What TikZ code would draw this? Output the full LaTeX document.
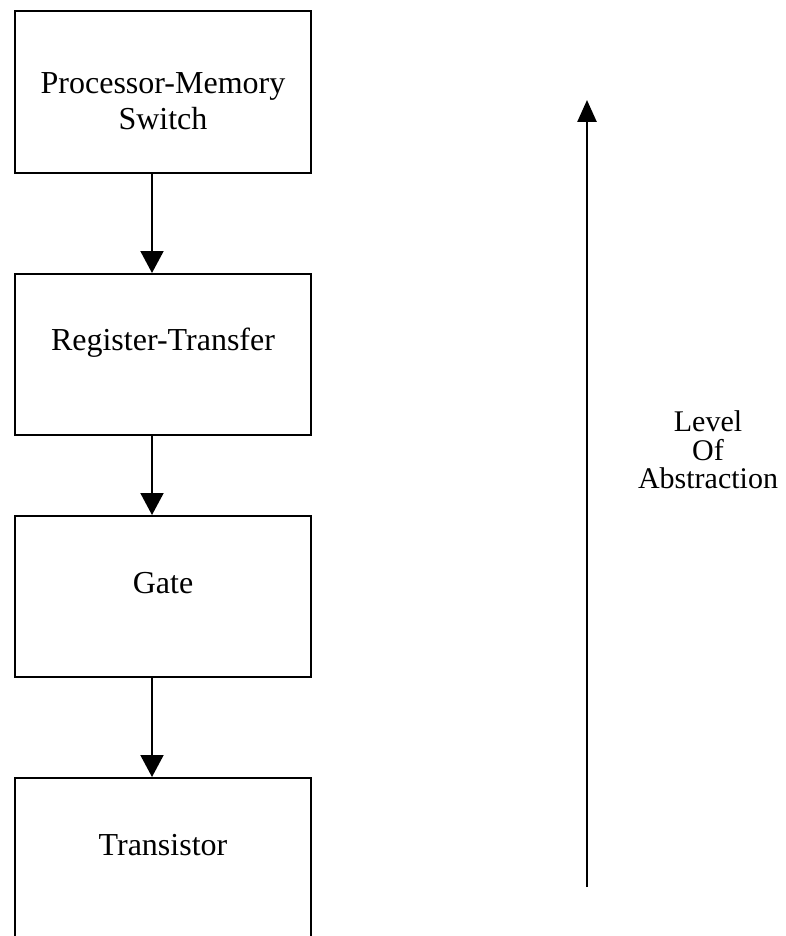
\documentclass[tikz,border=0pt]{standalone}
\usepackage{fontspec}
\setmainfont{Liberation Serif}
\usetikzlibrary{arrows.meta,calc}

\tikzset{
  level/.style={draw, line width=2.2pt, minimum width=296pt, minimum height=161pt,
                inner sep=0pt, anchor=north},
  lvltext/.style={font=\fontsize{32}{36}\selectfont, align=center, anchor=center},
  flow/.style={line width=2pt, -{Triangle[width=23pt,length=22pt]}},
  scale arrow/.style={line width=2.6pt, -{Triangle[width=19pt,length=22pt]}}
}

\begin{document}
\begin{tikzpicture}[x=1pt, y=-1pt]
  \useasboundingbox (0,0) rectangle (786,936);
  \clip (0,0) rectangle (786,936);

  % the four levels of the design hierarchy
  \node[level, minimum height=162pt,
        label={[lvltext, yshift=-91pt]north:Processor-Memory\\Switch}]
        (pms) at (163,10) {};
  \node[level, label={[lvltext, yshift=-70pt]north:Register-Transfer}]
        (rt) at (163,273) {};
  \node[level, label={[lvltext, yshift=-68pt]north:Gate}]
        (gate) at (163,515) {};
  \node[level, minimum height=180pt, label={[lvltext, yshift=-68pt]north:Transistor}]
        (tr) at (163,777) {};

  % refinement arrows, slightly left of the box centres
  \draw[flow] ($(pms.south)+(-11,0)$) -- ($(rt.north)+(-11,0)$);
  \draw[flow] ($(rt.south)+(-11,0)$) -- ($(gate.north)+(-11,0)$);
  \draw[flow] ($(gate.south)+(-11,0)$) -- ($(tr.north)+(-11,0)$);

  % abstraction scale
  \coordinate (low) at (587,887);
  \coordinate (high) at (587,100);
  \draw[scale arrow] (low) -- (high);
  \node[font=\fontsize{30}{28.5}\selectfont, align=center] (abs) at (708,450)
        {Level\\Of\\Abstraction};
\end{tikzpicture}
\end{document}
